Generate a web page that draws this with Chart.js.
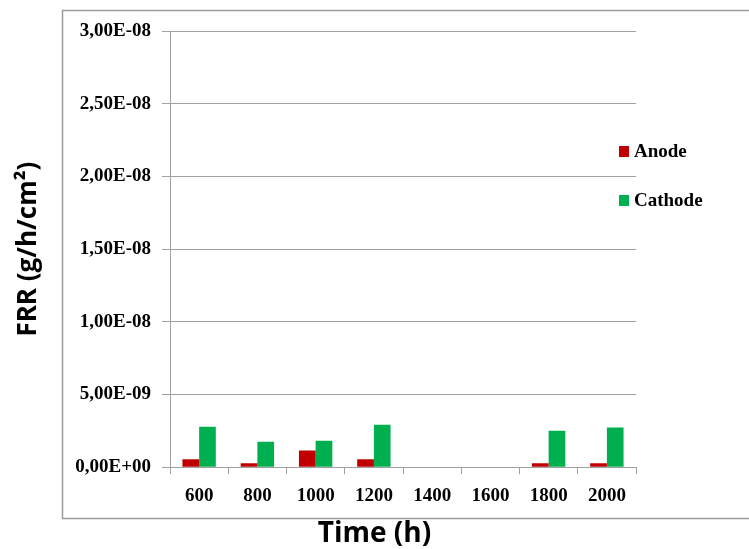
<!DOCTYPE html>
<html>
<head>
<meta charset="utf-8">
<script src="https://cdn.jsdelivr.net/npm/chart.js@4/dist/chart.umd.min.js"></script>
<style>
  html, body { margin: 0; padding: 0; background: #fff; }
  canvas { display: block; }
</style>
</head>
<body>
<canvas id="frrChart" width="749" height="549"></canvas>
<script>
// values in g/h/cm2
const times = ["600", "800", "1000", "1200", "1400", "1600", "1800", "2000"];
const anode = [0.55e-9, 0.28e-9, 1.15e-9, 0.55e-9, 0, 0, 0.28e-9, 0.28e-9];
const cathode = [2.78e-9, 1.75e-9, 1.82e-9, 2.92e-9, 0, 0, 2.50e-9, 2.73e-9];
const yMax = 3e-8;
const yStep = 5e-9;

const serif = "'Liberation Serif', 'Times New Roman', serif";
const sans = "'Open Sans', 'Noto Sans', sans-serif";
const gridGrey = "#a0a0a0";

function sciLabel(v) {
    const parts = Number(v).toExponential(2).split("e");
    const exp = parseInt(parts[1], 10);
    const sign = exp < 0 ? "-" : "+";
    return parts[0].replace(".", ",") + "E" + sign + String(Math.abs(exp)).padStart(2, "0");
}

// grey outer frame like the spreadsheet chart box
const framePlugin = {
    id: "frame",
    beforeDraw(chart) {
        const ctx = chart.ctx;
        ctx.save();
        ctx.strokeStyle = "#9a9a9a";
        ctx.lineWidth = 1.5;
        ctx.strokeRect(62.5, 10.5, 800, 508);
        ctx.restore();
    },
};

// legend sits over the right edge of the plot
const legendPlugin = {
    id: "sideLegend",
    afterDraw(chart) {
        const ctx = chart.ctx;
        ctx.save();
        ctx.font = "bold 19px " + serif;
        ctx.textBaseline = "middle";
        ctx.textAlign = "left";
        chart.data.datasets.forEach((ds, i) => {
            const y = 151 + i * 49;
            ctx.fillStyle = ds.backgroundColor;
            ctx.fillRect(619, y - 5, 10, 11);
            ctx.fillStyle = "#000";
            ctx.fillText(ds.label, 634, y + 1);
        });
        ctx.restore();
    },
};

new Chart(document.getElementById("frrChart").getContext("2d"), {
    type: "bar",
    data: {
        labels: times,
        datasets: [
            { label: "Anode", data: anode, backgroundColor: "#c00000" },
            { label: "Cathode", data: cathode, backgroundColor: "#00b050" },
        ],
    },
    options: {
        responsive: false,
        animation: false,
        categoryPercentage: 0.573,
        barPercentage: 1.0,
        layout: { padding: { top: 31, right: 0, left: 0, bottom: 0 } },
        plugins: {
            legend: { display: false },
            tooltip: { enabled: false },
            title: {
                display: true,
                position: "bottom",
                text: "Time (h)",
                color: "#000",
                font: { family: sans, size: 28, weight: "bold", lineHeight: 1.1 },
                padding: { top: 7, bottom: 0 },
            },
        },
        scales: {
            x: {
                grid: {
                    display: true,
                    drawOnChartArea: false,
                    drawTicks: true,
                    tickLength: 7,
                    color: gridGrey,
                    offset: true,
                },
                border: { display: true, color: gridGrey },
                ticks: {
                    color: "#000",
                    font: { family: serif, size: 19, weight: "bold" },
                    padding: 10,
                    maxRotation: 0,
                    autoSkip: false,
                },
                afterFit(scale) { scale.height = 44; },
            },
            y: {
                min: 0,
                max: yMax,
                grid: { color: gridGrey, tickLength: 8 },
                border: { display: true, color: gridGrey },
                ticks: {
                    stepSize: yStep,
                    color: "#000",
                    font: { family: serif, size: 19, weight: "bold" },
                    padding: 11,
                    callback: (v) => sciLabel(v),
                },
                title: {
                    display: true,
                    text: "FRR (g/h/cm²)",
                    color: "#000",
                    font: { family: sans, size: 26, weight: "bold" },
                    padding: { top: 13, bottom: 0 },
                },
                afterFit(scale) { scale.width = 170; },
            },
            // empty right-hand axis that only reserves room for the legend
            side: {
                type: "linear",
                position: "right",
                min: 0,
                max: 1,
                grid: { display: false },
                border: { display: false },
                ticks: { display: false },
                afterFit(scale) { scale.width = 113; },
            },
        },
    },
    plugins: [framePlugin, legendPlugin],
});
</script>
</body>
</html>
